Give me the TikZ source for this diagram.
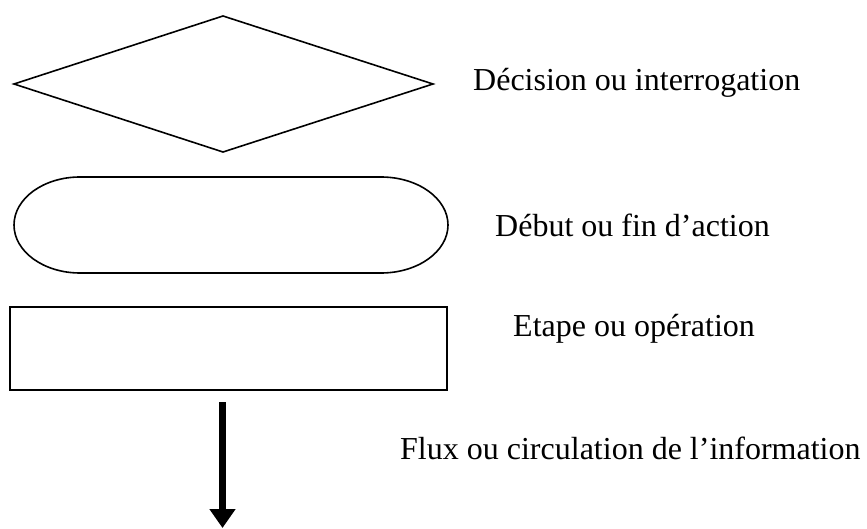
\documentclass[tikz,border=0pt]{standalone}
\usepackage{fontspec}
\setmainfont{Liberation Serif}
\usetikzlibrary{arrows.meta}
\begin{document}
\begin{tikzpicture}[x=1pt,y=-1pt,
  outline/.style={draw=black,line width=1.6pt,line join=miter},
  boxline/.style={draw=black,line width=2.2pt},
  legend/.style={anchor=base west,inner sep=0pt,font=\fontsize{32}{38}\selectfont},
  flowarrow/.style={draw=black,line width=6.5pt,-{Triangle[length=19pt,width=25pt]}}]
\useasboundingbox (0,0) rectangle (867,529);

% decision diamond
\draw[outline] (14,84) -- (223,16) -- (433,84) -- (223,152) -- cycle;
\node[legend] (decision) at (473,91) {Décision ou interrogation};

% terminator with elliptical ends
\draw[outline] (80,177) -- (381,177)
  arc[start angle=-90,end angle=90,x radius=67,y radius=48]
  -- (80,273)
  arc[start angle=90,end angle=270,x radius=66,y radius=48] -- cycle;
\node[legend] (terminal) at (495,237) {Début ou fin d’action};

% process box
\draw[boxline] (10,307) rectangle (447,390);
\node[legend] (process) at (513,336) {Etape ou opération};

% flow arrow
\coordinate (flowtop) at (222.5,402);
\coordinate (flowend) at (222.5,528);
\draw[flowarrow] (flowtop) -- (flowend);
\node[legend] (flow) at (400,459) {Flux ou circulation de l’information};
\end{tikzpicture}
\end{document}
